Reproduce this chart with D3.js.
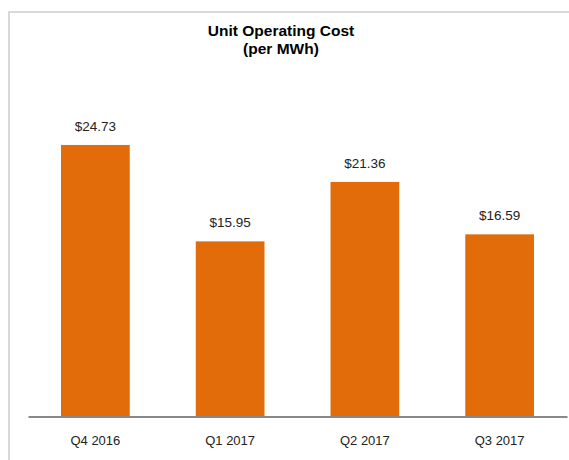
<!DOCTYPE html>
<html lang="en">
<head>
<meta charset="utf-8">
<title>Unit Operating Cost</title>
<script src="https://d3js.org/d3.v7.min.js"></script>
<style>
  body { margin: 0; background: #fff; }
  text { font-family: "Liberation Sans", Arial, sans-serif; }
</style>
</head>
<body>
<div id="chart"></div>
<script>
// data
var quarters = ["Q4 2016", "Q1 2017", "Q2 2017", "Q3 2017"];
var costs = [24.73, 15.95, 21.36, 16.59];
var titleLines = ["Unit Operating Cost", "(per MWh)"];

var w = 569, h = 460;
var barColor = "#e36c0a";

var svg = d3.select("#chart").append("svg")
  .attr("width", w)
  .attr("height", h);

// light frame (right/bottom run off the picture)
svg.append("rect")
  .attr("x", 9).attr("y", 12)
  .attr("width", 620).attr("height", 520)
  .attr("fill", "none")
  .attr("stroke", "#d9d9d9")
  .attr("stroke-width", 2);

var x = d3.scaleBand()
  .domain(quarters)
  .range([28, 567])
  .paddingInner(0.49)
  .paddingOuter(0.245);

var y = d3.scaleLinear()
  .domain([0, 30])
  .range([416.5, 87.1]);

svg.selectAll(".bar")
  .data(costs)
  .enter().append("rect")
    .attr("class", "bar")
    .attr("x", function(d, i) { return x(quarters[i]); })
    .attr("y", function(d) { return y(d); })
    .attr("width", x.bandwidth())
    .attr("height", function(d) { return y(0) - y(d); })
    .attr("fill", barColor);

svg.selectAll(".val")
  .data(costs)
  .enter().append("text")
    .attr("class", "val")
    .attr("x", function(d, i) { return x(quarters[i]) + x.bandwidth() / 2; })
    .attr("y", function(d) { return y(d) - 14; })
    .attr("text-anchor", "middle")
    .attr("font-size", "13.5px")
    .attr("fill", "#222")
    .text(function(d) { return "$" + d3.format(".2f")(d); });

// baseline axis
var xAxis = d3.axisBottom(x).tickSize(0).tickPadding(19);
var gx = svg.append("g")
  .attr("transform", "translate(0," + y(0) + ")")
  .call(xAxis);
gx.select(".domain")
  .attr("stroke", "#898989")
  .attr("stroke-width", 2);
gx.selectAll("text")
  .attr("font-family", "'Liberation Sans', Arial, sans-serif")
  .attr("font-size", "13px")
  .attr("fill", "#222");

svg.selectAll(".title")
  .data(titleLines)
  .enter().append("text")
    .attr("class", "title")
    .attr("x", 281)
    .attr("y", function(d, i) { return 36 + i * 17.5; })
    .attr("text-anchor", "middle")
    .attr("font-size", "15.5px")
    .attr("font-weight", "bold")
    .attr("fill", "#000")
    .text(function(d) { return d; });
</script>
</body>
</html>
